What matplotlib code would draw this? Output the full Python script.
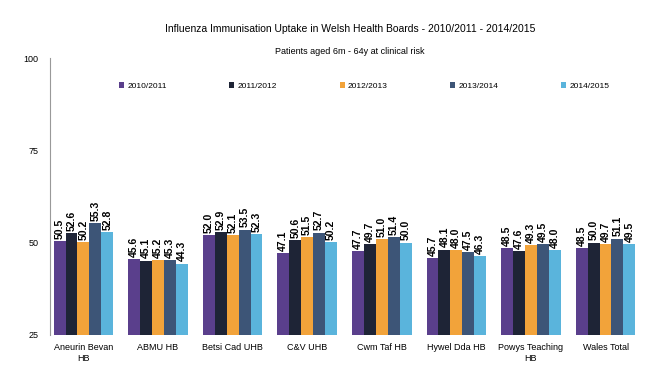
import matplotlib.pyplot as plt
import numpy as np

# Datos
boards = ["Aneurin Bevan\nHB", "ABMU HB", "Betsi Cad UHB", "C&V UHB",
          "Cwm Taf HB", "Hywel Dda HB", "Powys Teaching\nHB", "Wales Total"]
seasons = ["2010/2011", "2011/2012", "2012/2013", "2013/2014", "2014/2015"]

uptake_1011 = [50.5, 45.6, 52.0, 47.1, 47.7, 45.7, 48.5, 48.5]
uptake_1112 = [52.6, 45.1, 52.9, 50.6, 49.7, 48.1, 47.6, 50.0]
uptake_1213 = [50.2, 45.2, 52.1, 51.5, 51.0, 48.0, 49.3, 49.7]
uptake_1314 = [55.3, 45.3, 53.5, 52.7, 51.4, 47.5, 49.5, 51.1]
uptake_1415 = [52.8, 44.3, 52.3, 50.2, 50.0, 46.3, 48.0, 49.5]

colors = ["#5a3f8c", "#1e2436", "#f2a33a", "#3d5577", "#5ab4dc"]

plt.rcParams['font.family'] = ['Liberation Sans', 'DejaVu Sans']

fig = plt.figure(figsize=(6.48, 3.75), dpi=100)
ax = fig.add_axes([0.077, 0.107, 0.915, 0.738])

series = [uptake_1011, uptake_1112, uptake_1213, uptake_1314, uptake_1415]
x = np.arange(len(boards))
w = 0.16
for i, (vals, lab, col) in enumerate(zip(series, seasons, colors)):
    pos = x + (i - 2) * w
    bars = ax.bar(pos, np.array(vals) - 25, width=w, bottom=25, color=col, label=lab)
    for b, v in zip(bars, vals):
        ax.text(b.get_x() + b.get_width() / 2, v + 0.6, f"{v:.1f}", rotation=90,
                ha='center', va='bottom', fontsize=7.5, fontweight='bold')

ax.set_ylim(25, 100)
ax.set_xlim(-0.45, len(boards) - 0.5)
ax.set_yticks([25, 50, 75, 100])
ax.set_xticks(x)
ax.set_xticklabels(boards, fontsize=6.5)
ax.tick_params(axis='y', labelsize=6.5, length=0, pad=8)
ax.tick_params(axis='x', length=0, pad=6)
for s in ['top', 'right', 'bottom']:
    ax.spines[s].set_visible(False)
ax.spines['left'].set_color('#999999')

fig.text(0.54, 0.915, "Influenza Immunisation Uptake in Welsh Health Boards - 2010/2011 - 2014/2015",
         ha='center', fontsize=7.5)
fig.text(0.54, 0.855, "Patients aged 6m - 64y at clinical risk", ha='center', fontsize=6.5)

ax.legend(loc='upper center', bbox_to_anchor=(0.53, 0.94), ncol=5, frameon=False,
          fontsize=6, handlelength=0.6, handleheight=0.6, columnspacing=7.5, handletextpad=0.4)

fig.savefig("out.png", dpi=100)
